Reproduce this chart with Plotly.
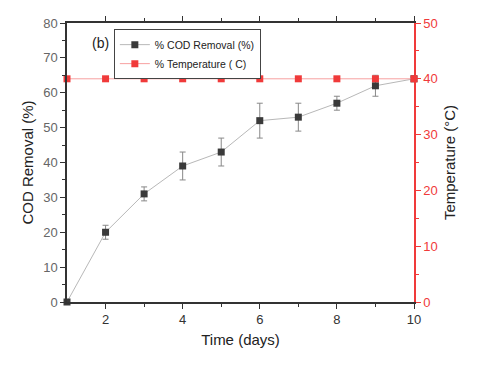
import plotly.graph_objects as go

days = [1, 2, 3, 4, 5, 6, 7, 8, 9, 10]
cod_removal = [0, 20, 31, 39, 43, 52, 53, 57, 62, 64]
cod_error = [0, 2, 2, 4, 4, 5, 4, 2, 3, 0]
temperature = [40, 40, 40, 40, 40, 40, 40, 40, 40, 40]

FONT = "Liberation Sans, Arial, sans-serif"
RED = "#f03a3a"

fig = go.Figure()

fig.add_trace(go.Scatter(
    x=days, y=cod_removal,
    mode="lines+markers",
    name="% COD Removal (%)",
    line=dict(color="#b8b8b8", width=1),
    marker=dict(symbol="square", size=7, color="#3a3a3a"),
    error_y=dict(type="data", array=cod_error, color="#888888",
                 thickness=1, width=3),
    cliponaxis=False,
))

fig.add_trace(go.Scatter(
    x=days, y=temperature,
    mode="lines+markers",
    name="% Temperature ( C)",
    yaxis="y2",
    line=dict(color="#f7a0a0", width=1),
    marker=dict(symbol="square", size=7, color=RED),
    cliponaxis=False,
))

# page body adds an 8px offset, so margins compensate for it
fig.update_layout(
    width=480, height=368,
    margin=dict(l=59, r=74, t=15, b=74),
    plot_bgcolor="white",
    paper_bgcolor="white",
    font=dict(family=FONT, size=13, color="#333333"),
    showlegend=True,
    legend=dict(
        x=0.135, y=0.978, xanchor="left", yanchor="top",
        bgcolor="white", bordercolor="#444444", borderwidth=1,
        font=dict(size=10.5, color="#222222"),
        tracegroupgap=0, itemwidth=30,
    ),
    xaxis=dict(
        range=[1, 10],
        tickvals=[2, 4, 6, 8, 10],
        ticks="outside", ticklen=5, tickcolor="#333333",
        minor=dict(tickvals=[3, 5, 7, 9], ticks="outside", ticklen=3,
                   tickcolor="#333333"),
        showline=True, linecolor="#333333", linewidth=1.5,
        mirror="ticks", showgrid=False, zeroline=False,
        tickfont=dict(size=13, color="#333333"),
        title=dict(text="Time (days)", font=dict(size=15, color="#222222"),
                   standoff=8),
        automargin=False,
    ),
    yaxis=dict(
        range=[0, 80],
        tickvals=[0, 10, 20, 30, 40, 50, 60, 70, 80],
        ticks="outside", ticklen=5, tickcolor="#333333",
        minor=dict(dtick=5, ticks="outside", ticklen=3, tickcolor="#333333"),
        showline=True, linecolor="#333333", linewidth=1.5,
        showgrid=False, zeroline=False,
        tickfont=dict(size=13, color="#666666"),
        title=dict(text="COD Removal (%)", font=dict(size=15, color="#222222"),
                   standoff=6),
        automargin=False,
    ),
    yaxis2=dict(
        range=[0, 50],
        overlaying="y", side="right",
        tickvals=[0, 10, 20, 30, 40, 50],
        ticks="outside", ticklen=5, tickcolor=RED,
        minor=dict(dtick=5, ticks="outside", ticklen=3, tickcolor=RED),
        showline=True, linecolor=RED, linewidth=1.5,
        showgrid=False, zeroline=False,
        tickfont=dict(size=13, color=RED),
        title=dict(text="Temperature (°C)", font=dict(size=15, color="#222222"),
                   standoff=8),
        automargin=False,
    ),
    annotations=[dict(
        text="(b)", xref="paper", yref="paper", x=0.065, y=0.93,
        xanchor="left", yanchor="middle", showarrow=False,
        font=dict(size=14, color="#222222"),
    )],
)

fig.write_html("out.html")
